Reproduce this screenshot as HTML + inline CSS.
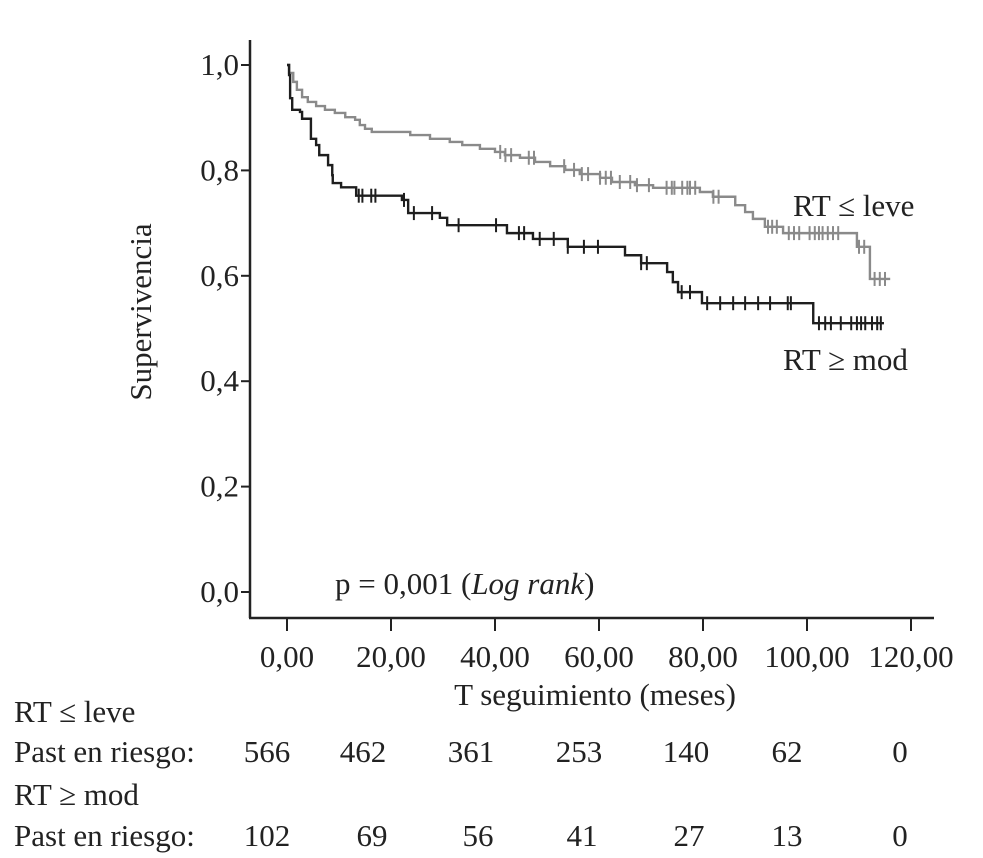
<!DOCTYPE html>
<html><head><meta charset="utf-8"><style>
body{margin:0;background:#fff;}
svg{display:block;font-family:"Liberation Serif",serif;}
</style></head><body>
<svg id="chart" width="983" height="858" viewBox="0 0 983 858">
<g id="axes"></g><g id="curves"></g><g id="texts"></g>
</svg>
<script>
const xTicks=[0,20,40,60,80,100,120];
const xTickLabels=["0,00","20,00","40,00","60,00","80,00","100,00","120,00"];
const yTicks=[0,0.2,0.4,0.6,0.8,1.0];
const yTickLabels=["0,0","0,2","0,4","0,6","0,8","1,0"];
const leveTimes=[0,0.4,1.2,1.9,2.9,4.0,5.6,7.3,9.2,11.2,13.1,14.0,15.0,16.3,23.7,27.5,31.3,33.7,37.1,40.0,41.9,44.8,47.7,50.6,53.5,56.3,60.2,62.5,66.9,70.4,79.4,81.9,86.2,88.1,89.6,91.9,95.4,109.6,112.1];
const leveSurv=[1.0,0.985,0.968,0.953,0.939,0.930,0.922,0.915,0.909,0.901,0.896,0.886,0.879,0.873,0.867,0.860,0.854,0.848,0.841,0.835,0.829,0.824,0.816,0.808,0.801,0.793,0.786,0.778,0.772,0.767,0.759,0.750,0.734,0.721,0.708,0.693,0.681,0.655,0.594];
const leveEnd=116;
const leveCensor=[41.0,42.0,43.1,46.5,47.5,53.3,55.2,56.7,57.9,60.2,61.3,62.3,64.0,66.0,67.3,69.6,73.0,74.0,74.5,76.0,77.0,77.5,78.5,82.0,83.0,92.5,93.3,94.2,96.5,97.5,98.5,100.5,101.5,102.3,103.0,104.0,105.0,106.0,110.0,111.0,113.0,114.0,115.0];
const modTimes=[0,0.4,0.6,1.0,2.5,2.9,4.6,5.6,6.2,7.9,8.7,8.8,10.4,13.3,22.1,23.3,29.4,30.8,42.3,47.3,54.0,65.0,68.1,73.1,74.2,75.2,79.8,101.2];
const modSurv=[1.0,0.981,0.937,0.915,0.911,0.898,0.860,0.848,0.829,0.810,0.791,0.776,0.768,0.752,0.744,0.719,0.710,0.696,0.681,0.670,0.655,0.639,0.624,0.607,0.588,0.569,0.548,0.510];
const modEnd=114.8;
const modCensor=[13.8,14.5,16.2,17.0,22.5,24.4,27.9,33.0,40.2,44.6,45.6,48.6,51.3,54.0,57.1,59.8,68.1,69.2,75.9,77.5,80.8,83.3,85.8,88.1,90.6,92.9,96.3,96.9,102.3,103.5,104.6,106.5,108.5,109.6,110.4,111.2,112.5,113.5,114.2];
const riskLeve=["566","462","361","253","140","62","0"];
const riskMod=["102","69","56","41","27","13","0"];

const NS="http://www.w3.org/2000/svg";
const X=t=>287+t*5.2, Y=s=>592-s*527;
const FS=31;
function mk(tag,attrs,parent,txt){const e=document.createElementNS(NS,tag);for(const k in attrs)e.setAttribute(k,attrs[k]);if(txt!==undefined)e.textContent=txt;parent.appendChild(e);return e;}
const axes=document.getElementById('axes'),curves=document.getElementById('curves'),texts=document.getElementById('texts');
let e;
e=mk('line',{x1:250,y1:40,x2:250,y2:618,stroke:'#222','stroke-width':2.5},axes);


e=mk('line',{x1:249,y1:618,x2:934,y2:618,stroke:'#222','stroke-width':2.5},axes);


yTicks.forEach((v,i)=>{
 e=mk('line',{x1:241,y1:Y(v),x2:250,y2:Y(v),stroke:'#222','stroke-width':2},axes);
 
 
 e=mk('text',{x:239,y:Y(v)+10,'text-anchor':'end','font-size':FS,fill:'#222'},axes,yTickLabels[i]);
 
 
});
xTicks.forEach((v,i)=>{
 e=mk('line',{x1:X(v),y1:618,x2:X(v),y2:631,stroke:'#222','stroke-width':2},axes);
 
 
 e=mk('text',{x:X(v),y:667,'text-anchor':'middle','font-size':FS,fill:'#222'},axes,xTickLabels[i]);
 
 
});
function stepAt(times,surv,t){let s=surv[0];for(let i=0;i<times.length;i++){if(times[i]<=t)s=surv[i];}return s;}
function drawCurve(times,surv,end,cens,color,name){
 let d=`M${X(times[0])},${Y(surv[0])}`;
 for(let i=1;i<times.length;i++){d+=` H${X(times[i])} V${Y(surv[i])}`;}
 d+=` H${X(end)}`;
 e=mk('path',{d:d,fill:'none',stroke:color,'stroke-width':2.4},curves);
 
 
 cens.forEach(t=>{const s=stepAt(times,surv,t);
  e=mk('line',{x1:X(t),y1:Y(s)-7,x2:X(t),y2:Y(s)+7,stroke:color,'stroke-width':2},curves);
  
  
 });
}
drawCurve(leveTimes,leveSurv,leveEnd,leveCensor,'#8a8a8a','rt-leve');
drawCurve(modTimes,modSurv,modEnd,modCensor,'#1e1e1e','rt-mod');
function txt(x,y,s,opts){const a=Object.assign({x:x,y:y,'font-size':FS,fill:'#222'},opts||{});return mk('text',a,texts,s);}
e=txt(0,0,'Supervivencia',{transform:'translate(151,312) rotate(-90)','text-anchor':'middle'});


e=txt(595,705,'T seguimiento (meses)',{'text-anchor':'middle'});


e=txt(793,216,'RT ≤ leve');


e=txt(783,370,'RT ≥ mod');


e=mk('text',{x:335,y:594,'font-size':FS,fill:'#222'},texts);
e.innerHTML='p = 0,001 (<tspan font-style="italic">Log rank</tspan>)';


e=txt(14,722,'RT ≤ leve');


e=txt(14,762,'Past en riesgo:');


e=txt(14,805,'RT ≥ mod');


e=txt(14,846,'Past en riesgo:');


const col1=[267,363,471,579,686,787,900], col2=[267,372,478,582,689,787,900];
riskLeve.forEach((v,i)=>{e=txt(col1[i],762,v,{'text-anchor':'middle'});
 
 });
riskMod.forEach((v,i)=>{e=txt(col2[i],846,v,{'text-anchor':'middle'});
 
 });
</script>
</body></html>
